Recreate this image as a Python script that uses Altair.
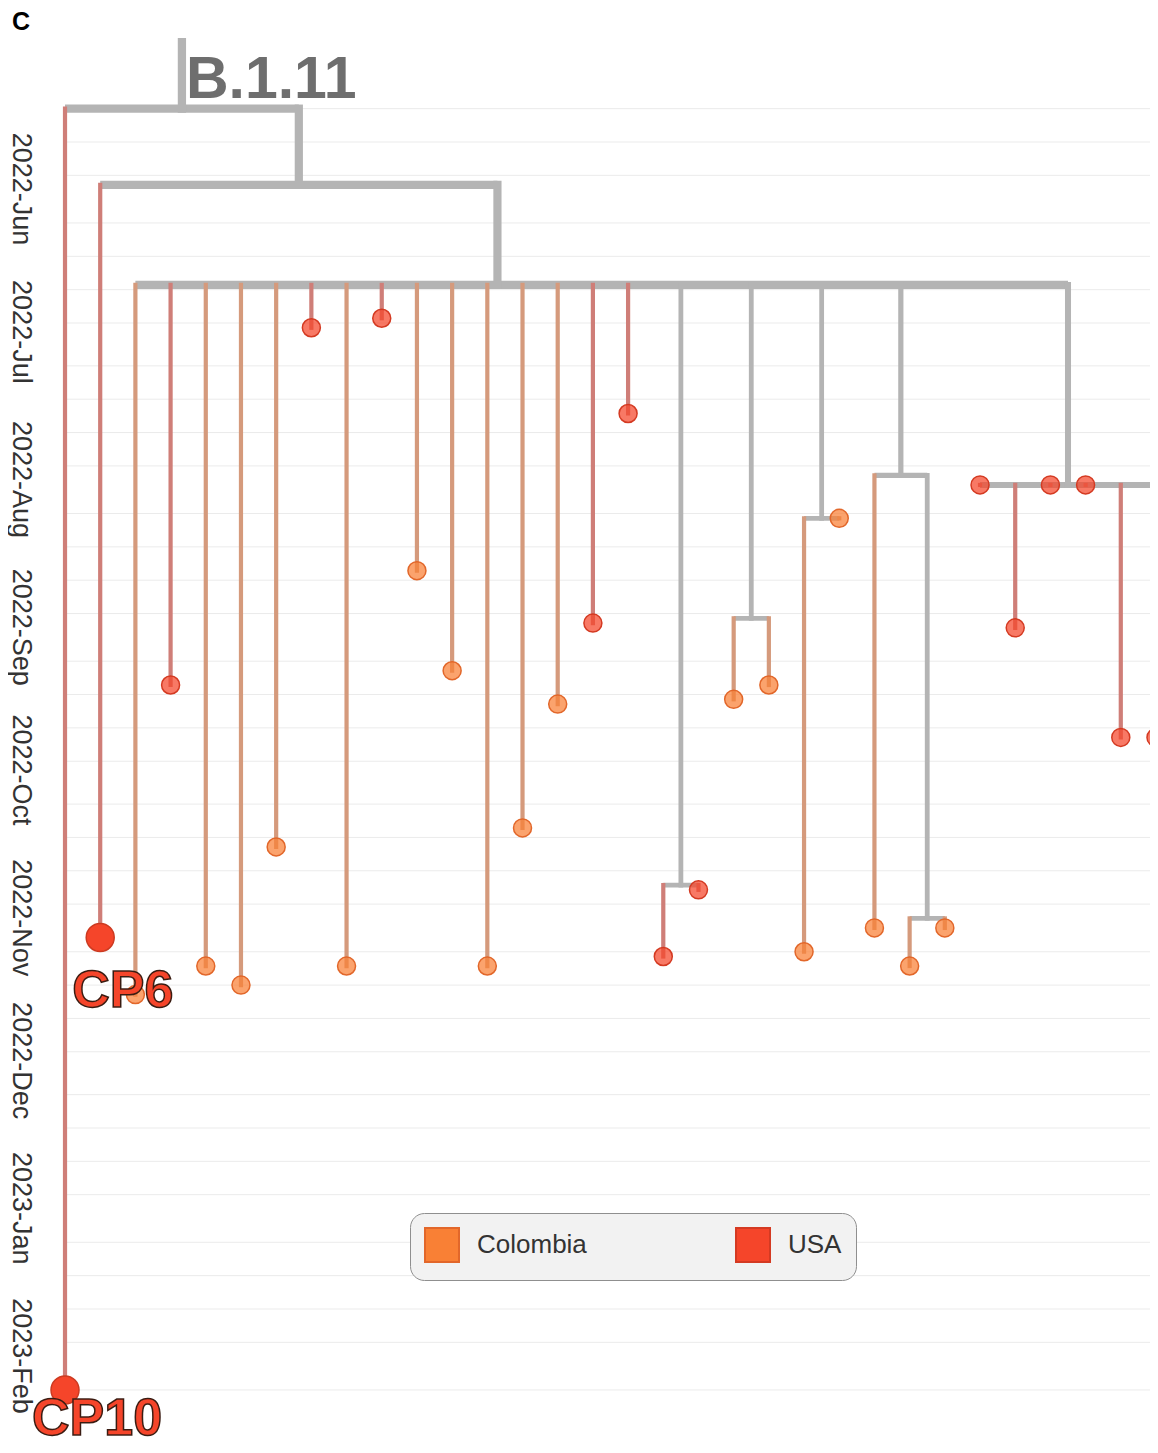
import altair as alt
import numpy as np
import pandas as pd

# ---------------- values ----------------
node_id = ["root", "CP10", "n1", "CP6", "n2",
           "t02", "t03", "t04", "t05", "t06", "t07", "t08", "t09", "t10",
           "t11", "t12", "t13", "t14", "t15", "t16",
           "nC", "t17", "t18",
           "nD", "t19", "t20",
           "nE", "t21", "t22",
           "nF", "t23", "nG", "t24", "t25",
           "nH", "t26", "t27", "t28", "t29", "t30", "t31"]
node_parent = ["", "root", "root", "n1", "n1",
               "n2", "n2", "n2", "n2", "n2", "n2", "n2", "n2", "n2",
               "n2", "n2", "n2", "n2", "n2", "n2",
               "n2", "nC", "nC",
               "n2", "nD", "nD",
               "n2", "nE", "nE",
               "n2", "nF", "nF", "nG", "nG",
               "n2", "nH", "nH", "nH", "nH", "nH", "nH"]
node_date = ["2022-05-08", "2023-02-01", "2022-05-24", "2022-10-29", "2022-06-14",
             "2022-11-10", "2022-09-06", "2022-11-04", "2022-11-08", "2022-10-10",
             "2022-06-23", "2022-11-04", "2022-06-21", "2022-08-13",
             "2022-09-03", "2022-11-04", "2022-10-06", "2022-09-10", "2022-08-24", "2022-07-11",
             "2022-10-18", "2022-11-02", "2022-10-19",
             "2022-08-23", "2022-09-09", "2022-09-06",
             "2022-08-02", "2022-11-01", "2022-08-02",
             "2022-07-24", "2022-10-27", "2022-10-25", "2022-11-04", "2022-10-27",
             "2022-07-26", "2022-07-26", "2022-08-25", "2022-07-26", "2022-07-26",
             "2022-09-17", "2022-09-17"]
node_country = ["", "USA", "", "USA", "",
                "Colombia", "USA", "Colombia", "Colombia", "Colombia", "USA", "Colombia",
                "USA", "Colombia", "Colombia", "Colombia", "Colombia", "Colombia", "USA", "USA",
                "", "USA", "USA",
                "", "Colombia", "Colombia",
                "", "Colombia", "Colombia",
                "", "Colombia", "", "Colombia", "Colombia",
                "", "USA", "USA", "USA", "USA", "USA", "USA"]

root_stem_start = "2022-04-24"
clade_label = "B.1.11"
highlight = ["CP6", "CP10"]

countries = ["Colombia", "USA"]
country_fill = ["#f98035", "#f5452a"]
country_stroke = ["#e2672a", "#d43a22"]
branch_colour = {"Colombia": "#d59a7c", "USA": "#cf7e78"}
internal_colour = "#b4b4b4"

month_labels = ["2022-Jun", "2022-Jul", "2022-Aug", "2022-Sep", "2022-Oct",
                "2022-Nov", "2022-Dec", "2023-Jan", "2023-Feb"]
grid_months = ["2022-05", "2022-06", "2022-07", "2022-08", "2022-09", "2022-10",
               "2022-11", "2022-12", "2023-01", "2023-02"]
grid_days = [1, 8, 15, 22]

# ---------------- helpers ----------------
REF = pd.Timestamp("2022-01-01")


def to_days(s):
    return (pd.Timestamp(s) - REF).total_seconds() / 86400.0


nodes = pd.DataFrame({"id": node_id, "parent": node_parent,
                      "date": node_date, "country": node_country})
nodes["d"] = nodes["date"].map(to_days)
date_of = dict(zip(nodes["id"], nodes["d"]))
country_of = dict(zip(nodes["id"], nodes["country"]))

children = {}
for n, p in zip(node_id, node_parent):
    if p:
        children.setdefault(p, []).append(n)

# tree layout: tips get consecutive slots, internal nodes sit at the mean of children
xpos, ntips = {}, {}
tip_ids = [n for n, c in zip(node_id, node_country) if c]
for i, n in enumerate(tip_ids):
    xpos[n] = float(i)
    ntips[n] = 1


def layout(n):
    if n in xpos:
        return xpos[n], ntips[n]
    res = [layout(c) for c in children[n]]
    xpos[n] = float(np.mean([r[0] for r in res]))
    ntips[n] = int(sum(r[1] for r in res))
    return xpos[n], ntips[n]


layout("root")


def width(n):
    return float(3.2 + 1.45 * np.log(ntips[n] + 1))


segs = []
segs.append(dict(kind="v", x=xpos["root"], x2=xpos["root"], y=to_days(root_stem_start),
                 y2=date_of["root"], col=internal_colour, w=width("root")))
for n, p in zip(node_id, node_parent):
    if not p:
        continue
    col = branch_colour[country_of[n]] if country_of[n] else internal_colour
    segs.append(dict(kind="v", x=xpos[n], x2=xpos[n], y=date_of[p], y2=date_of[n],
                     col=col, w=width(n)))
for n, ch in children.items():
    cx = [xpos[c] for c in ch]
    segs.append(dict(kind="h", x=min(cx), x2=max(cx), y=date_of[n], y2=date_of[n],
                     col=internal_colour, w=width(n)))
seg_df = pd.DataFrame(segs)
hseg_df = seg_df[seg_df["kind"] == "h"]
vseg_df = seg_df[seg_df["kind"] == "v"]

tips = nodes[nodes["country"] != ""].copy()
tips["x"] = tips["id"].map(xpos)
small = tips[~tips["id"].isin(highlight)]
big = tips[tips["id"].isin(highlight)]
cp6_df = big[big["id"] == "CP6"]
cp10_df = big[big["id"] == "CP10"]

root_df = pd.DataFrame({"label": [clade_label], "x": [xpos["root"]], "d": [date_of["root"]]})

first, last = date_of["root"], max(date_of.values())
grid = [to_days(f"{m}-{d:02d}") for m in grid_months for d in grid_days]
grid_df = pd.DataFrame({"d": [g for g in grid if first - 0.01 <= g <= last + 0.01]})
grid_df["x"] = xpos[tip_ids[0]]

month_df = pd.DataFrame({"label": month_labels})
month_df["d"] = [to_days(pd.to_datetime(m, format="%Y-%b")) for m in month_labels]

# ---------------- scales ----------------
W, H, TOP = 1142, 1400, 30
FONT = "Liberation Sans"
xscale = alt.Scale(domain=[-1.62, 30.83], nice=False, zero=False)
yscale = alt.Scale(domain=[to_days("2022-04-23 04:00"), to_days("2023-02-11 02:00")],
                   reverse=True, nice=False, zero=False)


def X(f):
    return alt.X(f, type="quantitative", scale=xscale, axis=None)


def Y(f):
    return alt.Y(f, type="quantitative", scale=yscale, axis=None)


gridlines = alt.Chart(grid_df).mark_rule(color="#ebebeb", strokeWidth=1).encode(
    x=X("x"), x2=alt.value(W), y=Y("d"))

hseg = alt.Chart(hseg_df).mark_rule(strokeCap="butt", clip=True).encode(
    x=X("x"), x2=alt.X2("x2"), y=Y("y"), y2=alt.Y2("y2"),
    color=alt.Color("col:N", scale=None),
    strokeWidth=alt.StrokeWidth("w:Q", scale=None))

vseg = alt.Chart(vseg_df).mark_rule(strokeCap="square", clip=True).encode(
    x=X("x"), x2=alt.X2("x2"), y=Y("y"), y2=alt.Y2("y2"),
    color=alt.Color("col:N", scale=None),
    strokeWidth=alt.StrokeWidth("w:Q", scale=None))

legend = alt.Legend(title=None, orient="none", legendX=402, legendY=1175,
                    direction="horizontal", columns=2, columnPadding=145,
                    symbolType="square", symbolSize=1156, symbolStrokeWidth=2,
                    symbolOpacity=1, labelFont=FONT, labelFontSize=26,
                    labelColor="#333333", labelOffset=17, padding=14,
                    fillColor="#f2f2f2", strokeColor="#8f8f8f", cornerRadius=14)

dots = alt.Chart(small).mark_circle(size=324, fillOpacity=0.72, strokeWidth=1.5,
                                    clip=True).encode(
    x=X("x"), y=Y("d"),
    fill=alt.Fill("country:N", scale=alt.Scale(domain=countries, range=country_fill),
                  legend=legend),
    stroke=alt.Stroke("country:N", scale=alt.Scale(domain=countries, range=country_stroke),
                      legend=legend))

bigdots = alt.Chart(big).mark_circle(size=784, fill="#f5452a", stroke="#cc3a21",
                                     strokeWidth=1.5, opacity=1).encode(
    x=X("x"), y=Y("d"))

cp6 = alt.Chart(cp6_df).mark_text(
    align="left", baseline="alphabetic", dx=-28, dy=70, font=FONT, fontSize=52,
    fontWeight="bold", fill="#f5452a", stroke="#3a1c12", strokeWidth=1.5).encode(
    x=X("x"), y=Y("d"), text="id:N")

cp10 = alt.Chart(cp10_df).mark_text(
    align="left", baseline="alphabetic", dx=-33, dy=45, font=FONT, fontSize=52,
    fontWeight="bold", fill="#f5452a", stroke="#3a1c12", strokeWidth=1.5).encode(
    x=X("x"), y=Y("d"), text="id:N")

clade = alt.Chart(root_df).mark_text(
    align="left", baseline="alphabetic", dx=4, dy=-11, font=FONT, fontSize=59,
    fontWeight="bold", color="#6e6e6e").encode(x=X("x"), y=Y("d"), text="label:N")

months = alt.Chart(month_df).mark_text(
    angle=90, align="center", baseline="middle", dx=-34, font=FONT, fontSize=27,
    color="#333333").encode(x=alt.value(13), y=Y("d"), text="label:N")

chart = alt.layer(gridlines, hseg, vseg, dots, bigdots, clade, months, cp6, cp10).properties(
    width=W, height=H,
    padding={"left": 0, "top": TOP, "right": 0, "bottom": 0},
    autosize=alt.AutoSizeParams(type="none"),
    background="white",
    title=alt.TitleParams("C", anchor="start", fontSize=25,
                          fontWeight="bold", font=FONT, color="#000000",
                          offset=3, dx=4),
).configure_view(stroke="transparent", strokeWidth=0)

chart.save("out.html", embed_options={"renderer": "svg", "actions": False})
